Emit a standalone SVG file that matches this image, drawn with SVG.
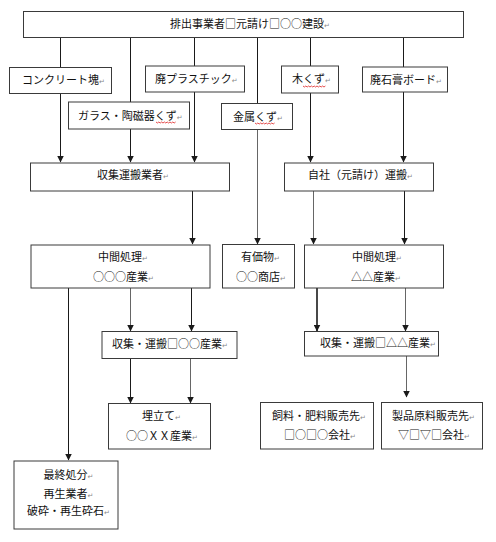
<svg xmlns="http://www.w3.org/2000/svg" width="496" height="542" viewBox="0 0 496 542">
<style>
.box{fill:#fff;stroke:#3a3a3a;stroke-width:1}
.t{font-family:"Noto Sans CJK JP","Liberation Sans",sans-serif;font-size:11px;fill:#111}
.r{font-family:"DejaVu Sans",sans-serif;font-size:7px;fill:#888}
.c{stroke:#1a1a1a;stroke-width:1;fill:none}
.g{stroke:#666}
.wave{stroke:#d22;stroke-width:0.8;fill:none}
</style>
<defs>
<marker id="ah" markerUnits="userSpaceOnUse" markerWidth="7" markerHeight="7" refX="6.5" refY="3.5" orient="auto">
<path d="M0,0 L7,3.5 L0,7 Z" fill="#1a1a1a"/>
</marker>
</defs>
<rect width="496" height="542" fill="#fff"/>
<g id="connectors">
<line class="c" x1="60.5" y1="37" x2="60.5" y2="67"/>
<line class="c" x1="60.5" y1="93" x2="60.5" y2="162" marker-end="url(#ah)"/>
<line class="c" x1="130.5" y1="37" x2="130.5" y2="102"/>
<line class="c" x1="130.5" y1="129" x2="130.5" y2="162" marker-end="url(#ah)"/>
<line class="c" x1="194.5" y1="37" x2="194.5" y2="66"/>
<line class="c" x1="194.5" y1="92" x2="194.5" y2="162" marker-end="url(#ah)"/>
<line class="c" x1="257.5" y1="37" x2="257.5" y2="103"/>
<line class="c g" x1="257.5" y1="129" x2="257.5" y2="244" marker-end="url(#ah)"/>
<line class="c" x1="310.5" y1="37" x2="310.5" y2="66"/>
<line class="c" x1="310.5" y1="93" x2="310.5" y2="162" marker-end="url(#ah)"/>
<line class="c" x1="403.5" y1="37" x2="403.5" y2="67"/>
<line class="c" x1="403.5" y1="92" x2="403.5" y2="162" marker-end="url(#ah)"/>
<line class="c" x1="192.5" y1="191" x2="192.5" y2="244" marker-end="url(#ah)"/>
<line class="c g" x1="313.5" y1="191" x2="313.5" y2="244" marker-end="url(#ah)"/>
<line class="c" x1="404.5" y1="191" x2="404.5" y2="244" marker-end="url(#ah)"/>
<line class="c" x1="68.5" y1="288" x2="68.5" y2="460" marker-end="url(#ah)"/>
<line class="c g" x1="130.5" y1="288" x2="130.5" y2="331" marker-end="url(#ah)"/>
<line class="c" x1="191.5" y1="288" x2="191.5" y2="331" marker-end="url(#ah)"/>
<line class="c" style="stroke-width:1.6" x1="317" y1="288" x2="317" y2="331" marker-end="url(#ah)"/>
<line class="c g" x1="405.5" y1="288" x2="405.5" y2="331" marker-end="url(#ah)"/>
<line class="c" x1="130.5" y1="358" x2="130.5" y2="403" marker-end="url(#ah)"/>
<line class="c g" x1="190.5" y1="358" x2="190.5" y2="403" marker-end="url(#ah)"/>
<line class="c g" x1="406.5" y1="356" x2="406.5" y2="397" marker-end="url(#ah)"/>
</g>
<g id="n-top"><rect class="box" x="23.5" y="11.5" width="440" height="26"/>
<text class="t" x="170" y="27.5">排出事業者□元請け□○○建設<tspan class="r">↵</tspan></text></g>
<g id="n-concrete"><rect class="box" x="9.5" y="67.5" width="102" height="26"/>
<text class="t" x="22" y="84">コンクリート塊<tspan class="r">↵</tspan></text></g>
<g id="n-plastic"><rect class="box" x="145.5" y="66" width="99" height="26"/>
<text class="t" x="155" y="83">廃プラスチック<tspan class="r">↵</tspan></text></g>
<g id="n-wood"><rect class="box" x="281.5" y="66" width="57" height="27"/>
<text class="t" x="292" y="83">木くず<tspan class="r">↵</tspan></text>
<path class="wave" d="M303,86 l1.4,1 l1.4,-1 l1.4,1 l1.4,-1 l1.4,1 l1.4,-1 l1.4,1 l1.4,-1 l1.4,1 l1.4,-1 l1.4,1 l1.4,-1 l1.4,1 l1.4,-1 l1.4,1 l1.4,-1"/></g>
<g id="n-gypsum"><rect class="box" x="362.5" y="67" width="85" height="25"/>
<text class="t" x="370" y="84">廃石膏ボード<tspan class="r">↵</tspan></text></g>
<g id="n-glass"><rect class="box" x="68.5" y="102" width="121" height="27"/>
<text class="t" x="78" y="119.5">ガラス・陶磁器くず<tspan class="r">↵</tspan></text>
<path class="wave" d="M156,122 l1.4,1 l1.4,-1 l1.4,1 l1.4,-1 l1.4,1 l1.4,-1 l1.4,1 l1.4,-1 l1.4,1 l1.4,-1 l1.4,1 l1.4,-1 l1.4,1 l1.4,-1"/></g>
<g id="n-metal"><rect class="box" x="221.5" y="103.5" width="71" height="26"/>
<text class="t" x="233" y="120.5">金属くず<tspan class="r">↵</tspan></text>
<path class="wave" d="M255,123 l1.4,1 l1.4,-1 l1.4,1 l1.4,-1 l1.4,1 l1.4,-1 l1.4,1 l1.4,-1 l1.4,1 l1.4,-1 l1.4,1 l1.4,-1 l1.4,1 l1.4,-1"/></g>
<g id="n-collector"><rect class="box" x="30.5" y="163" width="199" height="28"/>
<text class="t" x="97" y="179">収集運搬業者<tspan class="r">↵</tspan></text></g>
<g id="n-own"><rect class="box" x="284.5" y="163" width="149" height="28"/>
<text class="t" x="308" y="179">自社（元請け）運搬<tspan class="r">↵</tspan></text></g>
<g id="n-mid1"><rect class="box" x="31" y="245" width="179" height="43"/>
<text class="t" x="98" y="261">中間処理<tspan class="r">↵</tspan></text>
<text class="t" x="93" y="281">○○○産業<tspan class="r">↵</tspan></text></g>
<g id="n-valuable"><rect class="box" x="222.5" y="244.5" width="72" height="43.5"/>
<text class="t" x="241" y="261">有価物<tspan class="r">↵</tspan></text>
<text class="t" x="236" y="281">○○商店<tspan class="r">↵</tspan></text></g>
<g id="n-mid2"><rect class="box" x="304.5" y="245" width="139" height="43"/>
<text class="t" x="352" y="261">中間処理<tspan class="r">↵</tspan></text>
<text class="t" x="351" y="281">△△産業<tspan class="r">↵</tspan></text></g>
<g id="n-trans1"><rect class="box" x="102" y="331.5" width="135" height="27"/>
<text class="t" x="112" y="347.5">収集・運搬□○○産業<tspan class="r">↵</tspan></text></g>
<g id="n-trans2"><rect class="box" x="304.5" y="331.5" width="134" height="24.5"/>
<text class="t" x="320" y="347">収集・運搬□△△産業<tspan class="r">↵</tspan></text></g>
<g id="n-landfill"><rect class="box" x="108.5" y="403.5" width="102" height="45.5"/>
<text class="t" x="142" y="420">埋立て<tspan class="r">↵</tspan></text>
<text class="t" x="126" y="439.5">○○ＸＸ産業<tspan class="r">↵</tspan></text></g>
<g id="n-feed"><rect class="box" x="260.5" y="402.5" width="113" height="46.5"/>
<text class="t" x="272" y="420">飼料・肥料販売先<tspan class="r">↵</tspan></text>
<text class="t" x="284" y="438.5">□○□○会社<tspan class="r">↵</tspan></text></g>
<g id="n-product"><rect class="box" x="381.5" y="402.5" width="101" height="46.5"/>
<text class="t" x="392" y="420">製品原料販売先<tspan class="r">↵</tspan></text>
<text class="t" x="398" y="438.5">▽□▽□会社<tspan class="r">↵</tspan></text></g>
<g id="n-final"><rect class="box" x="14" y="461" width="104" height="68"/>
<text class="t" x="43.5" y="479">最終処分<tspan class="r">↵</tspan></text>
<text class="t" x="43.5" y="497.5">再生業者<tspan class="r">↵</tspan></text>
<text class="t" x="27" y="515">破砕・再生砕石<tspan class="r">↵</tspan></text></g>
</svg>
